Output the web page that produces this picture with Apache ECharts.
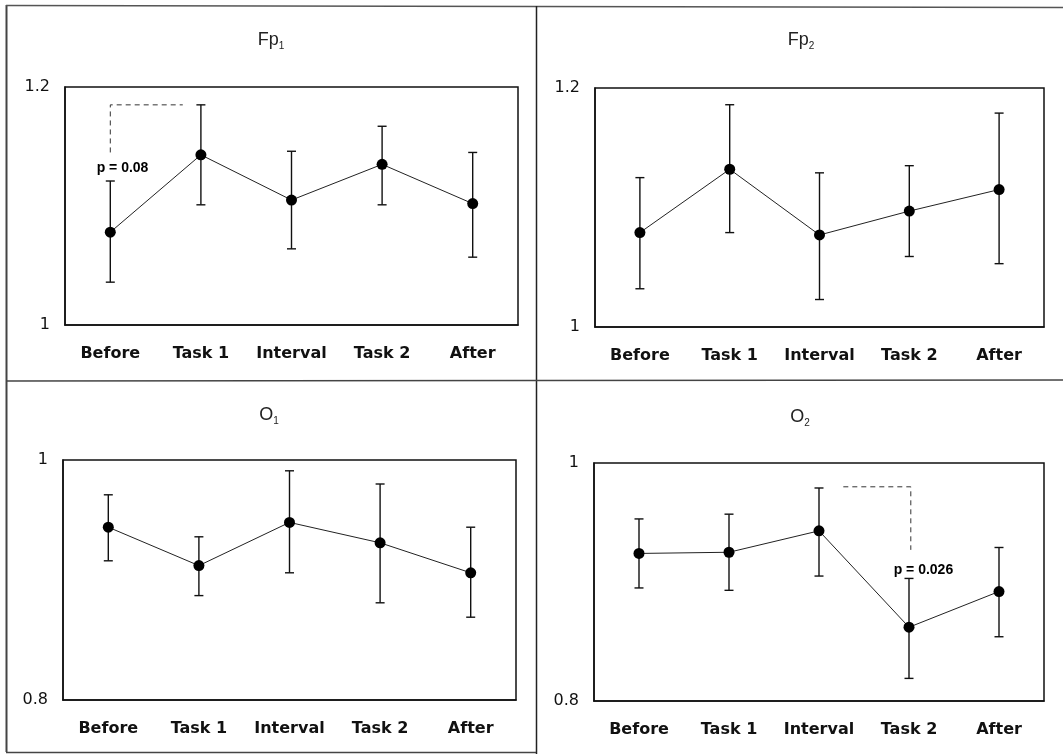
<!DOCTYPE html>
<html>
<head>
<meta charset="utf-8">
<script src="https://cdn.jsdelivr.net/npm/echarts@6/dist/echarts.min.js"></script>
<style>
  html, body { margin: 0; padding: 0; background: #fff; }
  #chart { width: 1063px; height: 754px; }
</style>
</head>
<body>
<div id="chart"></div>
<script>
const categories = ['Before', 'Task 1', 'Interval', 'Task 2', 'After']

// Fp1
const fp1Mean = [1.078, 1.143, 1.105, 1.135, 1.102]
const fp1Upper = [1.121, 1.185, 1.146, 1.167, 1.145]
const fp1Lower = [1.036, 1.101, 1.064, 1.101, 1.057]
// Fp2
const fp2Mean = [1.079, 1.132, 1.077, 1.097, 1.115]
const fp2Upper = [1.125, 1.186, 1.129, 1.135, 1.179]
const fp2Lower = [1.032, 1.079, 1.023, 1.059, 1.053]
// O1
const o1Mean = [0.944, 0.912, 0.948, 0.931, 0.906]
const o1Upper = [0.971, 0.936, 0.991, 0.980, 0.944]
const o1Lower = [0.916, 0.887, 0.906, 0.881, 0.869]
// O2
const o2Mean = [0.924, 0.925, 0.943, 0.862, 0.892]
const o2Upper = [0.953, 0.957, 0.979, 0.903, 0.929]
const o2Lower = [0.895, 0.893, 0.905, 0.819, 0.854]

// significance brackets (x in category units, y in data units)
const fp1BracketX = [0, 0, 0.8]
const fp1BracketY = [1.145, 1.185, 1.185]
const o2BracketX = [2.27, 3.02, 3.02]
const o2BracketY = [0.980, 0.980, 0.927]
const fp1Note = { x: 0.135, y: 1.132, text: 'p = 0.08' }
const o2Note = { x: 3.16, y: 0.910, text: 'p = 0.026' }

const panels = [
  { name: 'Fp', sub: '1', mean: fp1Mean, upper: fp1Upper, lower: fp1Lower, min: 1, max: 1.2,
    grid: { left: 65, top: 87, width: 453, height: 238 }, titleX: 266, titleY: 24,
    bracket: [fp1BracketX, fp1BracketY], note: fp1Note },
  { name: 'Fp', sub: '2', mean: fp2Mean, upper: fp2Upper, lower: fp2Lower, min: 1, max: 1.2,
    grid: { left: 595, top: 88, width: 449, height: 239 }, titleX: 796, titleY: 24 },
  { name: 'O', sub: '1', mean: o1Mean, upper: o1Upper, lower: o1Lower, min: 0.8, max: 1,
    grid: { left: 63, top: 460, width: 453, height: 240 }, titleX: 264, titleY: 399 },
  { name: 'O', sub: '2', mean: o2Mean, upper: o2Upper, lower: o2Lower, min: 0.8, max: 1,
    grid: { left: 594, top: 463, width: 450, height: 238 }, titleX: 795, titleY: 401,
    bracket: [o2BracketX, o2BracketY], note: o2Note },
]

const chart = echarts.init(document.getElementById('chart'), null, { renderer: 'canvas' })

const grid = [], xAxis = [], yAxis = [], title = [], series = []

panels.forEach((p, i) => {
  grid.push({ ...p.grid, show: true, borderColor: '#111', borderWidth: 1.5, backgroundColor: 'transparent' })
  title.push({
    text: `{a|${p.name}}{b|${p.sub}}`,
    left: p.titleX, top: p.titleY, textAlign: 'center',
    textStyle: {
      fontWeight: 'normal',
      rich: {
        a: { fontFamily: 'Liberation Sans', fontSize: 18, fontWeight: 'normal', color: '#222', lineHeight: 22 },
        b: { fontFamily: 'Liberation Sans', fontSize: 10, fontWeight: 'normal', color: '#222', lineHeight: 12, verticalAlign: 'bottom' },
      },
    },
  })
  // visible category axis
  xAxis.push({
    type: 'category', gridIndex: i, data: categories,
    axisLine: { lineStyle: { color: '#111', width: 1.5 } },
    axisTick: { inside: true, length: 4, lineStyle: { color: '#111' } },
    axisLabel: { interval: 0, margin: 21, fontSize: 16, fontWeight: 'bold', fontFamily: 'DejaVu Sans', color: '#111' },
  })
  // hidden numeric axis for annotations
  xAxis.push({ type: 'value', gridIndex: i, min: -0.5, max: 4.5, show: false })
  yAxis.push({
    type: 'value', gridIndex: i, min: p.min, max: p.max, interval: 0.2,
    axisLine: { show: true, onZero: false, lineStyle: { color: '#111', width: 1.5 } },
    axisTick: { show: false },
    splitLine: { show: false },
    axisLabel: { margin: 15, fontSize: 16, fontFamily: 'DejaVu Sans', color: '#111' },
  })

  series.push({
    type: 'custom', xAxisIndex: i * 2, yAxisIndex: i, z: 2,
    data: categories.map((c, k) => [k, p.lower[k], p.upper[k]]),
    encode: { x: 0, y: [1, 2] },
    renderItem: (params, api) => {
      const lo = api.coord([api.value(0), api.value(1)])
      const hi = api.coord([api.value(0), api.value(2)])
      const w = 4.5
      const style = { stroke: '#111', lineWidth: 1.4 }
      return {
        type: 'group',
        children: [
          { type: 'line', shape: { x1: hi[0], y1: hi[1], x2: lo[0], y2: lo[1] }, style },
          { type: 'line', shape: { x1: hi[0] - w, y1: hi[1], x2: hi[0] + w, y2: hi[1] }, style },
          { type: 'line', shape: { x1: lo[0] - w, y1: lo[1], x2: lo[0] + w, y2: lo[1] }, style },
        ],
      }
    },
  })
  series.push({
    type: 'line', xAxisIndex: i * 2, yAxisIndex: i, z: 3,
    data: p.mean,
    symbol: 'circle', symbolSize: 11, showSymbol: true,
    lineStyle: { color: '#222', width: 1 },
    itemStyle: { color: '#000' },
    animation: false,
  })
  if (p.bracket) {
    series.push({
      type: 'line', xAxisIndex: i * 2 + 1, yAxisIndex: i, z: 1,
      data: p.bracket[0].map((x, k) => [x, p.bracket[1][k]]),
      symbol: 'none',
      lineStyle: { color: '#333', width: 1, type: [5, 4] },
      animation: false,
    })
  }
  if (p.note) {
    series.push({
      type: 'scatter', xAxisIndex: i * 2 + 1, yAxisIndex: i, z: 4,
      symbolSize: 0,
      itemStyle: { opacity: 1 },
      data: [{ value: [p.note.x, p.note.y], name: p.note.text }],
      label: {
        show: true, position: 'inside', formatter: '{b}',
        fontFamily: 'Liberation Sans', fontSize: 14, fontWeight: 'bold', color: '#000',
      },
      animation: false,
    })
  }
})

const option = {
  backgroundColor: '#fff',
  animation: false,
  title, grid, xAxis, yAxis, series,
  graphic: [
    { type: 'line', shape: { x1: 6.5, y1: 5, x2: 6.5, y2: 752 }, style: { stroke: '#444', lineWidth: 2 } },
    { type: 'line', shape: { x1: 6, y1: 5.5, x2: 1063, y2: 7.5 }, style: { stroke: '#555', lineWidth: 1.5 } },
    { type: 'line', shape: { x1: 536.5, y1: 6, x2: 536.5, y2: 754 }, style: { stroke: '#222', lineWidth: 1.5 } },
    { type: 'line', shape: { x1: 6, y1: 381, x2: 1063, y2: 380 }, style: { stroke: '#444', lineWidth: 1.5 } },
    { type: 'line', shape: { x1: 6, y1: 752.5, x2: 536, y2: 752.5 }, style: { stroke: '#444', lineWidth: 1.5 } },
  ],
}

chart.setOption(option)
window.addEventListener('resize', () => chart.resize())
</script>
</body>
</html>
